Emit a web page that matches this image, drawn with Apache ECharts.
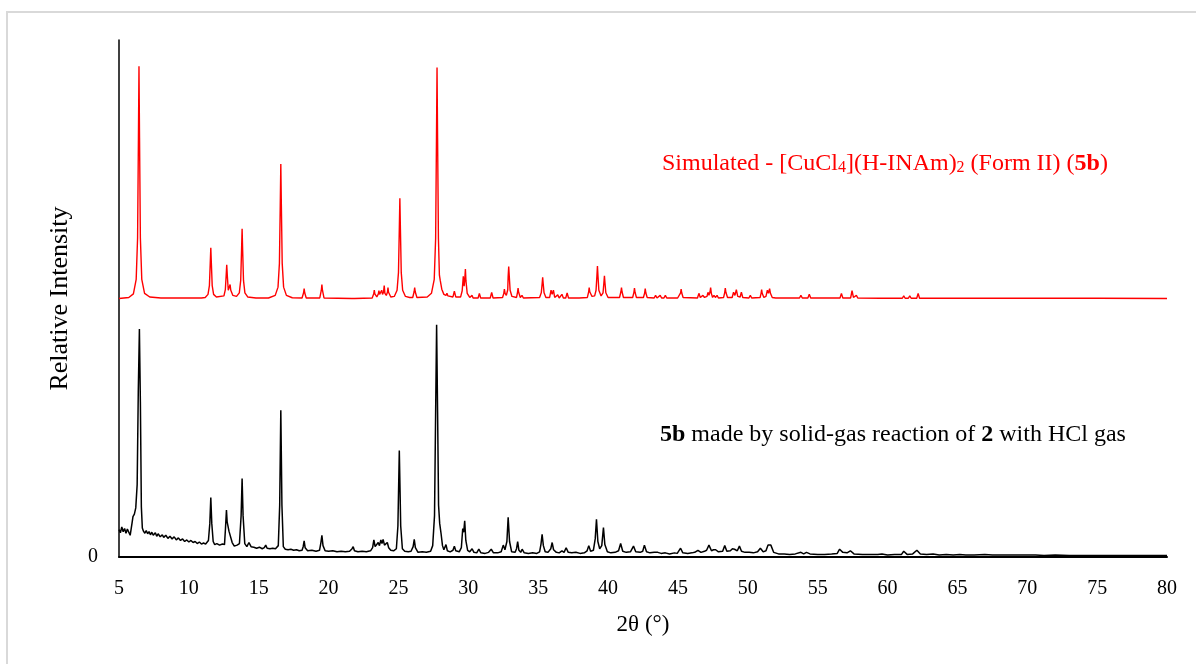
<!DOCTYPE html>
<html>
<head>
<meta charset="utf-8">
<script src="https://cdn.jsdelivr.net/npm/echarts@6/dist/echarts.min.js"></script>
<style>
  html, body { margin: 0; padding: 0; background: #fff; }
  #chart { width: 1196px; height: 664px; }
</style>
</head>
<body>
<div id="chart"></div>
<script>
// x axis ticks (2θ, degrees)
const xTicks = [5, 10, 15, 20, 25, 30, 35, 40, 45, 50, 55, 60, 65, 70, 75, 80];

// simulated pattern (red), intensity above its own baseline; drawn offset upward
const SIM_OFFSET = 50;
const simPattern = [
  [5,0],[5.7,0.2],
  [6.03,0.9],[6.23,3.7],[6.33,11.7],[6.39,31],[6.43,44.9],[6.47,31],[6.53,11.7],[6.63,3.7],[6.83,1.0],[7.2,0.3],[8,0.1],
  [10.9,0.1],
  [11.17,0.2],[11.37,0.8],[11.47,2.5],[11.53,6.8],[11.57,9.8],[11.61,6.8],[11.67,2.5],[11.77,0.8],[11.97,0.3],
  [12.51,0.5],[12.61,1.7],[12.67,4.5],[12.71,6.5],[12.75,4.5],[12.82,1.6],[12.9,1.9],[12.95,2.7],[13.0,1.6],[13.15,0.6],
  [13.41,0.4],[13.61,1.1],[13.71,3.5],[13.77,9.3],[13.81,13.5],[13.85,9.3],[13.91,3.5],[14.01,1.1],[14.21,0.3],[14.8,0.1],
  [15.7,0.1],[16.18,0.6],[16.38,2.2],[16.48,6.8],[16.54,18],[16.58,26],[16.62,18],[16.68,6.8],[16.78,2.2],[16.98,0.6],[17.4,0.15],
  [18.1,0.1],[18.21,1.1],[18.25,1.9],[18.29,1.1],[18.4,0.1],
  [19.37,0.1],[19.48,1.6],[19.52,2.7],[19.56,1.6],[19.67,0.1],
  [21.66,0],[21.76,0.3],[21.86,0],
  [23.12,0.1],[23.23,0.9],[23.27,1.6],[23.31,0.9],[23.45,0.3],[23.56,0.9],[23.6,1.5],[23.65,0.8],[23.7,0.7],[23.8,1.6],[23.86,0.8],[23.93,1.2],[23.98,2.5],[24.03,1.0],[24.13,0.6],[24.21,1.2],[24.25,2.1],[24.29,1.2],[24.45,0.3],
  [24.7,0.4],[24.9,1.6],[25.0,5.0],[25.06,13.4],[25.1,19.4],[25.14,13.4],[25.2,5.0],[25.3,1.6],[25.5,0.4],[25.8,0.2],
  [26.02,0.2],[26.12,1.3],[26.16,2.1],[26.2,1.3],[26.32,0.2],
  [27.06,0.3],[27.36,1.0],[27.56,3.7],[27.66,11.6],[27.72,31],[27.76,44.7],[27.8,31],[27.86,11.6],[27.93,4.5],[27.99,3.5],[28.04,3.7],[28.1,1.8],[28.25,0.8],
  [28.4,0.6],[28.47,1.0],[28.54,0.5],
  [28.9,0.3],[29.0,1.4],[29.1,0.3],
  [29.45,0.3],[29.56,1.5],[29.64,4.3],[29.7,2.4],[29.75,3.9],[29.79,5.7],[29.83,3.4],[29.92,1.0],[30.1,0.2],
  [30.2,0.1],[30.27,0.6],[30.34,0.1],
  [30.7,0.1],[30.79,1.0],[30.88,0.1],
  [31.57,0.1],[31.67,1.2],[31.77,0.1],
  [32.45,0.2],[32.54,1.0],[32.58,1.8],[32.63,1.0],[32.72,0.6],[32.82,1.7],[32.85,4.3],[32.89,6.2],[32.93,4.3],[32.99,1.6],[33.12,0.4],
  [33.45,0.2],[33.52,1.2],[33.56,2.0],[33.6,1.2],[33.72,0.2],[33.84,0.6],[33.94,0.1],
  [35.1,0.2],[35.22,1.1],[35.28,2.8],[35.32,4.1],[35.36,2.8],[35.42,1.1],[35.55,0.2],
  [35.82,0.2],[35.92,1.6],[36.0,0.8],[36.09,1.6],[36.18,0.2],[36.4,0.7],[36.5,0.1],[36.6,0.1],[36.7,0.8],[36.8,0.1],[36.97,0.1],[37.07,1.1],[37.17,0.1],
  [37.73,0.1],[37.83,0.4],[37.93,0.1],
  [38.52,0.2],[38.61,1.3],[38.65,2.1],[38.69,1.3],[38.85,0.4],[39.04,0.5],[39.14,1.6],[39.2,4.3],[39.24,6.3],[39.28,4.3],[39.34,1.6],[39.5,0.5],[39.64,1.1],[39.7,3.0],[39.74,4.4],[39.78,3.0],[39.84,1.1],[40.0,0.2],
  [40.82,0.2],[40.92,1.3],[40.96,2.1],[41.0,1.3],[41.1,0.2],
  [41.76,0.2],[41.85,1.2],[41.89,2.0],[41.93,1.2],[42.03,0.2],
  [42.53,0.2],[42.62,1.1],[42.66,1.9],[42.7,1.1],[42.8,0.2],
  [43.3,0.1],[43.4,0.6],[43.5,0.1],[43.63,0.1],[43.73,0.6],[43.83,0.1],[44.0,0.1],[44.1,0.6],[44.2,0.1],[44.78,0.1],[44.88,0.4],[44.98,0.1],
  [45.1,0.2],[45.19,1.1],[45.23,1.8],[45.27,1.1],[45.37,0.2],
  [46.4,0.1],[46.5,1.0],[46.6,0.2],[46.79,0.6],[46.9,0.2],[47.08,0.4],[47.15,1.2],[47.22,0.6],[47.3,1.3],[47.34,2.1],[47.39,1.0],[47.48,0.2],[47.58,0.6],[47.68,0.2],[47.8,0.6],[47.9,0.1],
  [48.27,0.2],[48.35,1.2],[48.39,2.0],[48.43,1.2],[48.55,0.2],
  [48.88,0.2],[48.98,1.2],[49.08,0.6],[49.18,1.7],[49.28,0.4],[49.45,0.3],[49.54,1.2],[49.64,0.2],
  [50.08,0.1],[50.18,0.6],[50.28,0.1],
  [50.88,0.2],[50.95,1.0],[50.99,1.7],[51.03,1.0],[51.15,0.2],[51.3,0.4],[51.4,1.6],[51.48,1.0],[51.56,1.9],[51.62,1.0],[51.75,0.2],[52.0,0.1],
  [53.7,0.1],[53.8,0.6],[53.9,0.1],[54.3,0.1],[54.4,0.8],[54.5,0.1],
  [56.6,0.1],[56.7,1.0],[56.8,0.1],[57.36,0.1],[57.46,1.5],[57.56,0.2],[57.77,0.6],[57.87,0.1],
  [59.5,0.05],[59.6,0.3],[59.7,0.05],
  [61.06,0.05],[61.16,0.5],[61.26,0.05],[61.49,0.05],[61.59,0.5],[61.69,0.05],[62.09,0.05],[62.19,1.0],[62.29,0.05],
  [63.16,0.05],[63.26,0.3],[63.36,0.05],[65.14,0.05],[65.24,0.3],[65.34,0.05],[66.86,0.05],[66.96,0.3],[67.06,0.05],
  [68.22,0.05],[68.32,0.2],[68.42,0.05],[69.08,0.05],[69.18,0.3],[69.28,0.05],[70.1,0.05],[70.2,0.3],[70.3,0.05],[70.5,0.05],[70.6,0.3],[70.7,0.05],[71.04,0.05],[71.14,0.3],[71.24,0.05],
  [74.86,0.05],[74.96,0.2],[75.06,0.05],[80,0]
];

// measured pattern of 5b (black)
const measuredPattern = [
  [5.0,5.3],[5.1,4.7],[5.2,5.8],[5.3,4.9],[5.4,5.5],[5.5,4.6],[5.6,5.4],[5.7,4.8],[5.8,4.2],[5.86,3.9],[5.93,6.5],[6.0,7.8],[6.1,8.3],[6.2,9.5],[6.3,14],[6.38,32],[6.46,44.1],[6.53,30],[6.6,9.7],[6.67,5.6],
  [6.75,5.0],[6.85,4.6],[6.95,5.1],[7.05,4.5],[7.15,4.9],[7.25,4.3],[7.35,4.8],[7.45,4.2],[7.6,4.7],[7.7,4.0],[7.8,4.5],[7.95,3.9],[8.1,4.3],[8.2,3.8],[8.35,4.2],[8.5,3.6],[8.65,4.0],[8.8,3.5],[8.95,3.9],
  [9.1,3.3],[9.25,3.7],[9.4,3.2],[9.55,3.5],[9.7,3.0],[9.85,3.3],[10.0,2.9],[10.15,3.2],[10.3,2.8],[10.45,3.0],[10.6,2.6],[10.75,2.9],[10.9,2.5],[11.05,2.7],[11.2,2.5],[11.3,2.6],
  [11.4,3.2],[11.5,6.5],[11.57,11.5],[11.64,6.5],[11.74,3.0],[11.85,2.4],[12.0,2.6],[12.2,2.3],[12.4,2.5],[12.55,2.4],[12.62,5.5],[12.69,9.1],[12.74,6.8],[12.8,7.1],[12.87,5.0],[13.0,4.7],[13.1,2.8],
  [13.25,2.1],[13.45,2.3],[13.62,2.6],[13.74,8],[13.81,15.2],[13.88,8],[14.0,2.6],[14.15,2.0],[14.3,2.8],[14.45,2.0],[14.65,1.9],[14.85,1.7],[15.05,1.9],[15.25,1.6],[15.4,1.8],[15.5,2.3],[15.6,1.7],
  [15.8,1.6],[16.0,1.7],[16.2,1.6],[16.4,2.2],[16.5,10],[16.58,28.4],[16.66,10],[16.76,2.0],[16.9,1.5],[17.1,1.4],[17.3,1.5],[17.5,1.3],[17.7,1.4],[17.9,1.2],[18.1,1.3],[18.18,2.0],[18.25,3.1],[18.32,1.8],
  [18.5,1.2],[18.8,1.3],[19.1,1.1],[19.35,1.3],[19.45,2.8],[19.52,4.2],[19.6,2.2],[19.75,1.2],[20.0,1.1],[20.3,1.2],[20.6,1.0],[20.9,1.1],[21.2,1.0],[21.5,1.1],[21.68,1.6],[21.76,2.0],[21.85,1.2],
  [22.1,1.0],[22.4,1.1],[22.7,1.0],[23.0,1.2],[23.15,1.8],[23.24,3.3],[23.33,2.0],[23.45,2.2],[23.55,2.8],[23.64,2.2],[23.74,3.3],[23.82,2.6],[23.9,3.4],[24.0,2.3],[24.1,2.1],[24.2,2.8],[24.3,1.8],
  [24.45,1.3],[24.65,1.2],[24.85,1.6],[24.96,6],[25.06,20.6],[25.16,6],[25.28,1.6],[25.45,1.1],[25.7,1.0],[25.9,1.1],[26.05,2.0],[26.13,3.4],[26.21,1.8],[26.4,0.9],[26.7,1.0],[27.0,0.9],[27.3,1.1],
  [27.45,2.2],[27.58,8],[27.66,28],[27.73,44.9],[27.8,28],[27.87,10],[27.95,6.5],[28.05,4.5],[28.15,2.2],[28.25,1.4],[28.4,2.4],[28.5,1.2],[28.7,1.0],[28.9,1.3],[29.0,2.1],[29.1,1.2],[29.35,1.0],
  [29.5,1.8],[29.6,5.5],[29.67,4.8],[29.74,7.0],[29.82,3.2],[29.95,1.3],[30.1,1.0],[30.27,1.6],[30.4,0.9],[30.6,0.8],[30.75,1.5],[30.9,0.8],[31.2,0.7],[31.45,0.9],[31.64,1.5],[31.8,0.8],[32.1,0.8],
  [32.35,1.0],[32.5,2.3],[32.62,1.4],[32.76,3.0],[32.85,7.7],[32.95,3.0],[33.1,1.0],[33.35,0.9],[33.45,1.6],[33.53,3.0],[33.62,1.3],[33.75,0.9],[33.85,1.5],[34.0,0.8],[34.3,0.7],[34.6,0.8],[34.9,0.7],
  [35.1,1.0],[35.2,2.5],[35.28,4.4],[35.37,2.2],[35.5,1.0],[35.7,0.9],[35.9,1.6],[36.0,2.8],[36.1,1.4],[36.3,0.9],[36.5,0.8],[36.7,1.2],[36.85,0.9],[37.0,1.8],[37.15,0.9],[37.4,0.8],[37.7,0.9],
  [38.0,0.7],[38.3,0.8],[38.5,1.2],[38.62,2.2],[38.75,1.1],[38.95,1.3],[39.08,3.5],[39.17,7.3],[39.27,3.0],[39.4,1.6],[39.55,2.2],[39.67,5.7],[39.77,2.4],[39.95,1.0],[40.2,0.8],[40.5,0.9],[40.75,1.2],
  [40.9,2.6],[41.05,1.1],[41.3,0.9],[41.6,1.0],[41.82,2.1],[41.98,1.0],[42.3,0.9],[42.48,1.1],[42.6,2.3],[42.75,1.0],[43.0,0.8],[43.3,0.9],[43.56,0.9],[43.8,0.7],[44.1,0.8],[44.4,0.6],[44.75,0.8],
  [44.95,0.7],[45.19,1.7],[45.35,0.8],[45.7,0.7],[46.0,0.8],[46.2,0.9],[46.43,1.3],[46.65,0.9],[46.9,1.1],[47.05,1.3],[47.22,2.3],[47.4,1.2],[47.55,1.4],[47.7,1.4],[47.9,1.0],[48.2,1.1],[48.35,2.2],
  [48.5,1.1],[48.75,1.2],[48.9,1.6],[49.05,1.5],[49.25,1.2],[49.4,2.1],[49.55,1.1],[49.8,0.9],[50.1,0.9],[50.4,0.8],[50.7,1.0],[50.9,1.7],[51.1,1.0],[51.3,1.2],[51.45,2.3],[51.55,2.0],[51.65,2.3],
  [51.85,0.9],[52.2,0.6],[52.6,0.6],[53.0,0.5],[53.4,0.6],[53.8,0.9],[54.0,0.6],[54.2,0.9],[54.45,0.6],[55.0,0.5],[55.5,0.5],[56.0,0.6],[56.4,0.7],[56.57,1.5],[56.8,0.9],[57.1,0.8],[57.34,1.2],
  [57.6,0.6],[58.2,0.5],[58.8,0.5],[59.3,0.5],[59.6,0.6],[60.0,0.4],[60.5,0.5],[61.0,0.5],[61.16,1.1],[61.4,0.5],[61.8,0.6],[62.1,1.3],[62.35,0.6],[62.8,0.5],[63.26,0.6],[63.7,0.4],[64.2,0.5],
  [64.7,0.4],[65.17,0.5],[65.6,0.4],[66.2,0.4],[66.96,0.5],[67.5,0.4],[68.2,0.4],[68.8,0.4],[69.4,0.4],[70.0,0.4],[70.6,0.4],[71.2,0.3],[72.0,0.4],[73.0,0.3],[74.0,0.3],[75.0,0.3],[76.0,0.3],
  [77.0,0.3],[78.0,0.3],[79.0,0.3],[80.0,0.3]
];

const FONT = '"Liberation Serif", "Times New Roman", serif';

var dom = document.getElementById('chart');
var myChart = echarts.init(dom, null, { renderer: 'canvas' });

const option = {
    backgroundColor: '#fff',
    animation: false,
    textStyle: { fontFamily: FONT },
    grid: { left: 119, right: 29, top: 40, bottom: 107 },
    xAxis: {
        type: 'value',
        min: xTicks[0],
        max: xTicks[xTicks.length - 1],
        interval: 5,
        name: '2θ (°)',
        nameLocation: 'middle',
        nameGap: 56,
        nameTextStyle: { fontFamily: FONT, fontSize: 23, color: '#000' },
        axisLine: { lineStyle: { color: '#000', width: 2 } },
        axisTick: { show: false },
        axisLabel: { fontFamily: FONT, fontSize: 20, color: '#000', margin: 22 },
        splitLine: { show: false }
    },
    yAxis: {
        type: 'value',
        min: 0,
        max: 100,
        interval: 100,
        name: 'Relative Intensity',
        nameLocation: 'middle',
        nameGap: 46,
        nameRotate: 90,
        nameTextStyle: { fontFamily: FONT, fontSize: 26, color: '#000' },
        axisLine: { show: true, lineStyle: { color: '#000', width: 1.5 } },
        axisTick: { show: false },
        axisLabel: {
            fontFamily: FONT, fontSize: 20, color: '#000', margin: 21,
            formatter: function (v) { return v === 0 ? '0' : ''; }
        },
        splitLine: { show: false }
    },
    series: [
        {
            name: 'Simulated',
            type: 'line',
            showSymbol: false,
            z: 3,
            lineStyle: { color: '#ff0000', width: 1.4 },
            data: simPattern.map(p => [p[0], p[1] + SIM_OFFSET])
        },
        {
            name: 'Measured',
            type: 'line',
            showSymbol: false,
            z: 2,
            lineStyle: { color: '#000', width: 1.5 },
            data: measuredPattern
        }
    ],
    graphic: [
        {
            type: 'rect',
            z: -1,
            shape: { x: 7, y: 12, width: 1200, height: 700 },
            style: { fill: 'none', stroke: '#d9d9d9', lineWidth: 2 }
        },
        {
            type: 'text',
            left: 662,
            top: 152,
            style: {
                text: '{n|Simulated - [CuCl}{s|4}{n|](H-INAm)}{s|2}{n| (Form II) (}{b|5b}{n|)}',
                fill: '#ff0000',
                rich: {
                    n: { fontFamily: FONT, fontSize: 24, color: '#ff0000', lineHeight: 30, verticalAlign: 'bottom' },
                    s: { fontFamily: FONT, fontSize: 16, color: '#ff0000', lineHeight: 22, verticalAlign: 'bottom' },
                    b: { fontFamily: FONT, fontSize: 24, fontWeight: 'bold', color: '#ff0000', lineHeight: 30, verticalAlign: 'bottom' }
                }
            }
        },
        {
            type: 'text',
            left: 660,
            top: 423,
            style: {
                text: '{b|5b}{n| made by solid-gas reaction of }{b|2}{n| with HCl gas}',
                fill: '#000',
                rich: {
                    n: { fontFamily: FONT, fontSize: 24, color: '#000', lineHeight: 30 },
                    b: { fontFamily: FONT, fontSize: 24, fontWeight: 'bold', color: '#000', lineHeight: 30 }
                }
            }
        }
    ]
};

if (option && typeof option === 'object') {
    myChart.setOption(option);
}

window.addEventListener('resize', myChart.resize);
</script>
</body>
</html>
